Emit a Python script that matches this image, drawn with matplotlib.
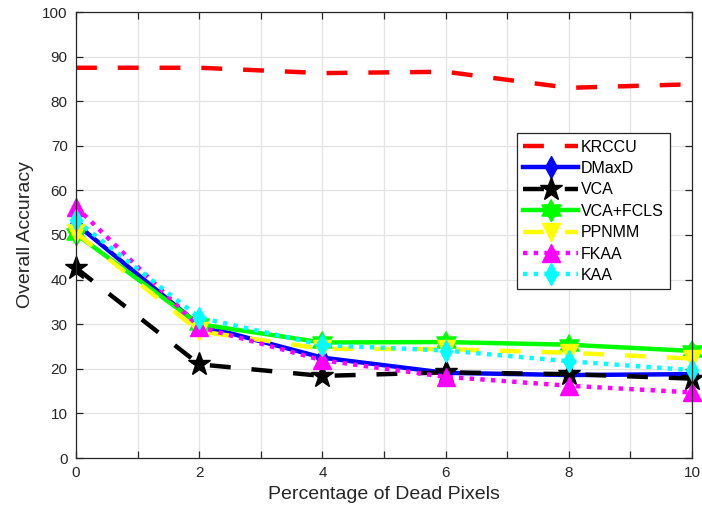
import numpy as np
import matplotlib
matplotlib.use("Agg")
import matplotlib.pyplot as plt

# ---- data ----
x = [0, 2, 4, 6, 8, 10]
krccu = [87.5, 87.5, 86.3, 86.6, 83.0, 83.8]
dmaxd = [52.5, 29.8, 22.5, 19.1, 18.6, 18.8]
vca = [42.6, 21.0, 18.4, 19.2, 18.8, 17.8]
vca_fcls = [50.2, 30.0, 25.9, 26.0, 25.4, 24.0]
ppnmm = [50.5, 28.4, 24.5, 24.4, 23.6, 22.3]
fkaa = [56.3, 29.4, 21.9, 18.2, 16.2, 14.7]
kaa = [53.3, 31.5, 25.3, 24.1, 21.7, 19.7]
labels = ["KRCCU", "DMaxD", "VCA", "VCA+FCLS", "PPNMM", "FKAA", "KAA"]
xticks = list(range(0, 11))
xticklabels = ["0", "", "2", "", "4", "", "6", "", "8", "", "10"]
yticks = list(range(0, 101, 10))

plt.rcParams['font.family'] = ['Liberation Sans', 'DejaVu Sans']

# hexagram marker shape
ang = np.deg2rad(np.arange(12) * 30 + 90)
rad = np.where(np.arange(12) % 2 == 0, 1.0, 0.577)
hexagram = list(zip(rad * np.cos(ang), rad * np.sin(ang)))

fig = plt.figure(figsize=(7.02, 5.18), dpi=100)
ax = fig.add_axes([76/702, 1 - 458/518, 616/702, 446/518])

lw = 3.2
dash = (0, (4.7, 4.7))
dot = (0, (1, 1.4))
common = dict(lw=lw, clip_on=False)
ax.plot(x, krccu, color='#ff0000', ls=dash, label=labels[0], **common)
ax.plot(x, dmaxd, color='#0000ff', ls='-', marker='d', ms=11, label=labels[1], **common)
ax.plot(x, vca, color='#000000', ls=dash, marker='*', ms=17, label=labels[2], **common)
ax.plot(x, vca_fcls, color='#00ff00', ls='-', marker=hexagram, ms=16, label=labels[3], **common)
ax.plot(x, ppnmm, color='#ffff00', ls=dash, marker='v', ms=13, label=labels[4], **common)
ax.plot(x, fkaa, color='#ff00ff', ls=dot, marker='^', ms=13, label=labels[5], **common)
ax.plot(x, kaa, color='#00ffff', ls=dot, marker='d', ms=11, label=labels[6], **common)

ax.set_xlim(0, 10)
ax.set_ylim(0, 100)
ax.set_xticks(xticks)
ax.set_xticklabels(xticklabels)
ax.set_yticks(yticks)
ax.grid(True, color='#e3e3e3', lw=0.9)
ax.set_axisbelow(True)
dark = '#262626'
for s in ax.spines.values():
    s.set_color(dark)
    s.set_linewidth(0.9)
ax.tick_params(direction='in', top=True, right=True, length=5, width=0.9,
               colors=dark, labelsize=11, pad=6)
ax.set_xlabel("Percentage of Dead Pixels", fontsize=14, color=dark, labelpad=4)
ax.set_ylabel("Overall Accuracy", fontsize=14, color=dark, labelpad=6)

leg = ax.legend(loc='upper left', bbox_to_anchor=(0.716, 0.728), fontsize=11.5,
                handlelength=3.4, numpoints=1, fancybox=False, framealpha=1,
                edgecolor='#262626', labelspacing=0.4, borderpad=0.4,
                handletextpad=0.2, borderaxespad=0)
leg.get_frame().set_linewidth(0.9)
leg.set_zorder(5)

fig.savefig("out.png", dpi=100)
